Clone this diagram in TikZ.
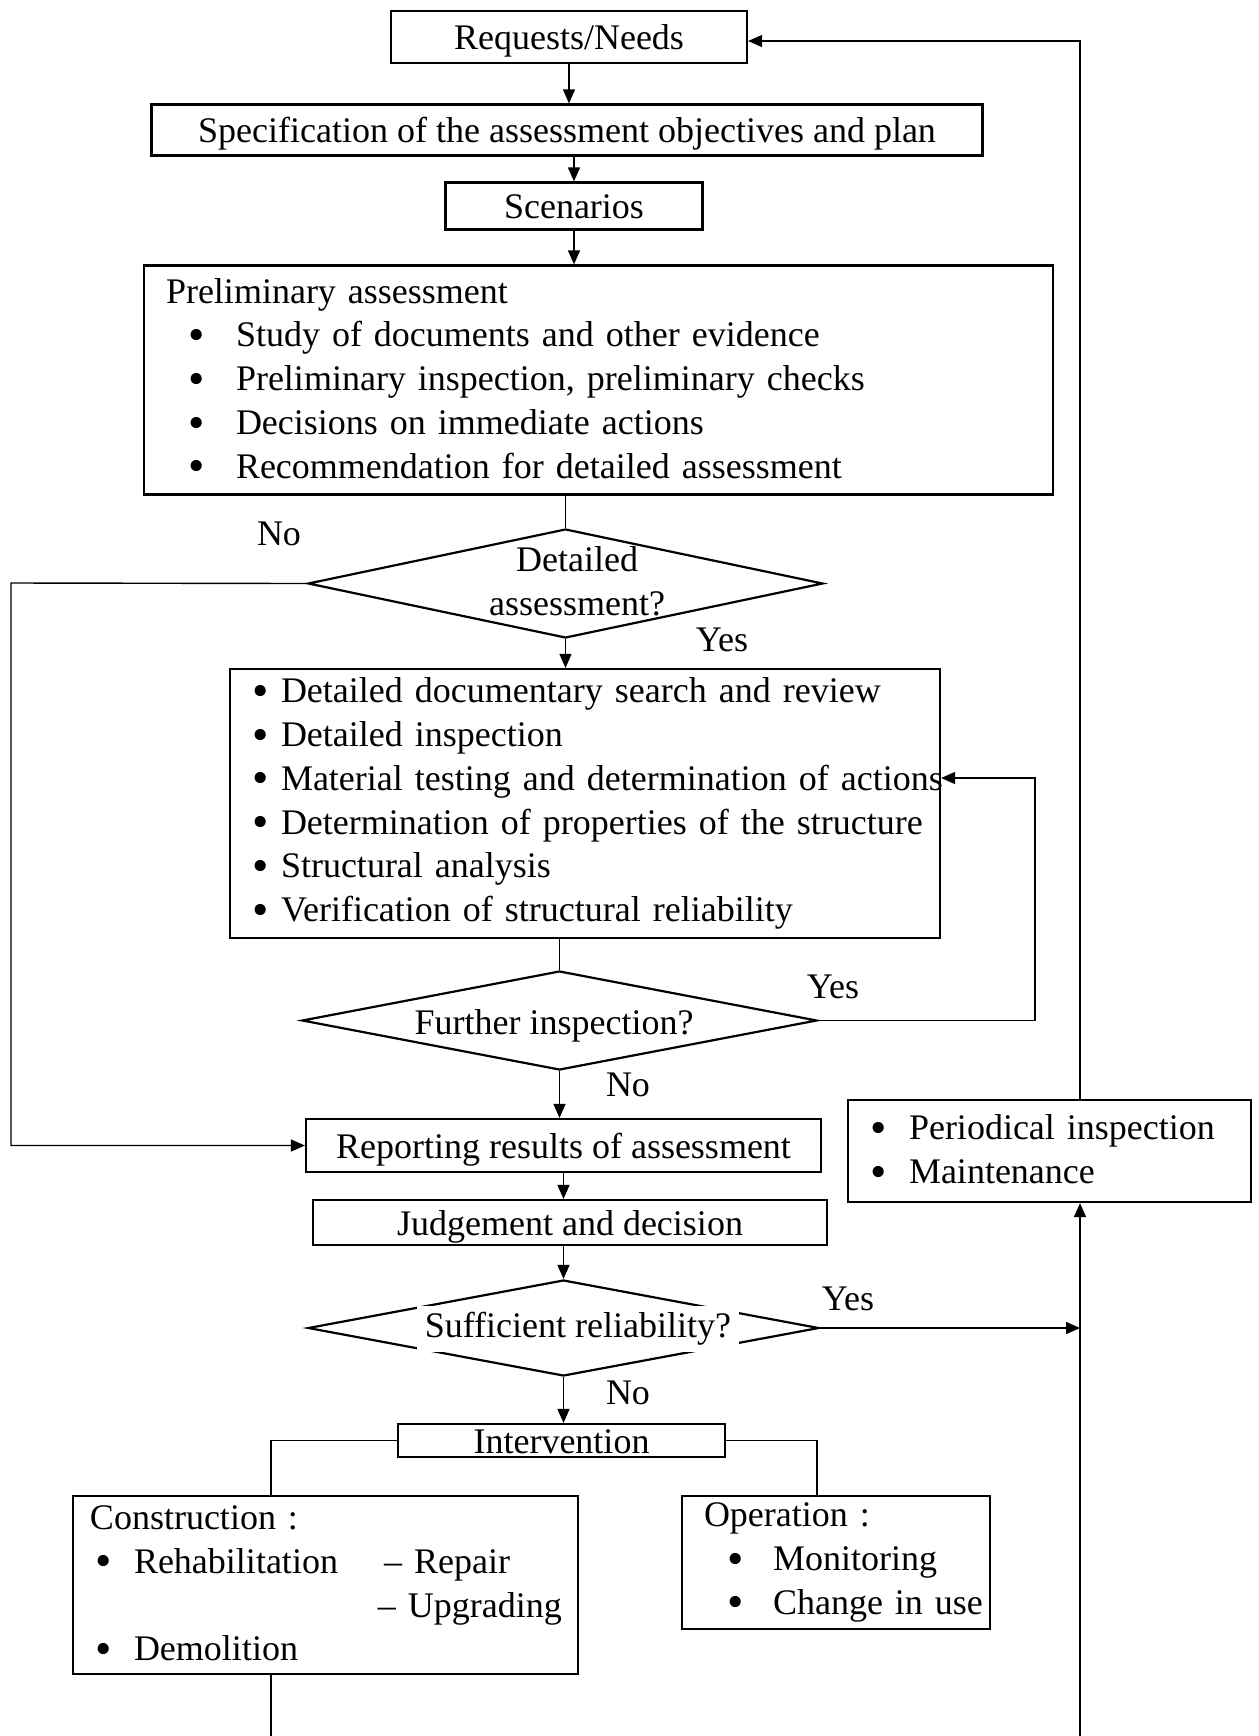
\documentclass[tikz,border=0pt]{standalone}
\usepackage{fontspec}
\setmainfont{Liberation Serif}
\usetikzlibrary{shapes.geometric,arrows.meta}
\newcommand{\bul}[3]{\mbox{\hspace*{#1}\makebox[#2][l]{\raisebox{-1.8pt}{\scalebox{1.3}{\textbullet}}}#3}}

\begin{document}
\begin{tikzpicture}[
  x=0.5pt, y=-0.5pt,
  every node/.style={font=\fontsize{18}{21.9}\selectfont},
  box/.style={draw, line width=1.1pt, inner sep=0pt, align=center, text height=14pt, text depth=1.5pt},
  listbox/.style={draw, line width=1.1pt, inner ysep=0pt, align=left},
  decision/.style={draw, diamond, line width=1.1pt, inner sep=0pt},
  conn/.style={line width=0.7pt},
  arr/.style={conn, -{Triangle[length=7pt, width=6pt]}}
]
\useasboundingbox (0,0) rectangle (1259,1736);

\node[box, minimum width=178pt, minimum height=26pt] (req) at (569,37) {Requests/Needs};
\node[box, minimum width=415.5pt, minimum height=25.5pt] (spec) at (567,130) {Specification of the assessment objectives and plan};
\node[box, minimum width=128.5pt, minimum height=23.5pt] (scen) at (574,206) {Scenarios};
\node[listbox, inner xsep=11pt, text width=432.5pt, minimum height=114.5pt] (prelim) at (598.5,380) {Preliminary assessment\\
  \bul{11pt}{24pt}{Study of documents and other evidence}\\
  \bul{11pt}{24pt}{Preliminary inspection, preliminary checks}\\
  \bul{11pt}{24pt}{Decisions on immediate actions}\\
  \bul{11pt}{24pt}{Recommendation for detailed assessment}};

\node[decision, minimum width=257.5pt, minimum height=54.5pt] (d1) at (565.5,583.5) {};
\node[align=center, inner sep=0pt] (d1txt) at (577,581) {Detailed\\assessment?};

\node[listbox, inner xsep=11pt, text width=333pt, minimum height=134.5pt] (det) at (585,803.5) {%
  \bul{0pt}{14.5pt}{Detailed documentary search and review}\\
  \bul{0pt}{14.5pt}{Detailed inspection}\\
  \bul{0pt}{14.5pt}{Material testing and determination of actions}\\
  \bul{0pt}{14.5pt}{Determination of properties of the structure}\\
  \bul{0pt}{14.5pt}{Structural analysis}\\
  \bul{0pt}{14.5pt}{Verification of structural reliability}};

\node[decision, minimum width=257.5pt, minimum height=49.5pt] (d2) at (559.5,1020.5) {};
\node[inner sep=0pt] (d2txt) at (554,1026) {Further inspection?};

\node[box, minimum width=257.5pt, minimum height=26.5pt] (rep) at (563.5,1145.5) {Reporting results of assessment};
\node[listbox, inner xsep=11pt, text width=179.5pt, minimum height=51pt] (per) at (1049.5,1151) {%
  \bul{0pt}{19.5pt}{Periodical inspection}\\
  \bul{0pt}{19.5pt}{Maintenance}};
\node[box, minimum width=257pt, minimum height=22.5pt] (judg) at (570,1222.5) {Judgement and decision};

\node[decision, minimum width=255.5pt, minimum height=48pt] (d3) at (563.5,1328) {};
\node[fill=white, inner xsep=4pt, inner ysep=3.4pt] (d3txt) at (578,1329) {Sufficient reliability?};

\node[box, minimum width=163.5pt, minimum height=16.5pt] (interv) at (561.5,1440.5) {Intervention};
\node[listbox, inner xsep=8.5pt, text width=235.5pt, minimum height=89pt] (constr) at (325.5,1585) {Construction :\\
  \bul{2.5pt}{19.5pt}{\makebox[125pt][l]{Rehabilitation}\textendash{} Repair}\\
  \mbox{\hspace*{144pt}\textendash{} Upgrading}\\
  \bul{2.5pt}{19.5pt}{Demolition}};
\node[listbox, inner xsep=11pt, text width=132pt, minimum height=66.5pt] (oper) at (836,1562.5) {Operation :\\
  \bul{11.5pt}{23pt}{Monitoring}\\
  \bul{11.5pt}{23pt}{Change in use}};

\node (noA) at (279,534) {No};
\node (yesA) at (722,640) {Yes};
\node (yesB) at (833,987) {Yes};
\node (noB) at (628,1085) {No};
\node (yesC) at (848,1299) {Yes};
\node (noC) at (628,1393) {No};

\coordinate (loopL) at (11,583);
\coordinate (loopR) at (1035,778);
\coordinate (topR) at (1080,41);
\coordinate (botR) at (1080,1736);
\coordinate (botL) at (271,1736);
\coordinate (branchR) at (817,1440);

\draw[arr] (req.south) -- (req.south |- spec.north);
\draw[arr] (scen.north |- spec.south) -- (scen.north);
\draw[arr] (scen.south) -- (scen.south |- prelim.north);
\draw[conn] (d1.north |- prelim.south) -- (d1.north);
\draw[arr] (d1.south) -- (d1.south |- det.north);
\draw[arr] (d1.west) -- (loopL) |- (rep.west);
\draw[conn] (d2.north |- det.south) -- (d2.north);
\draw[arr] (d2.east) -| (loopR) -- (loopR -| det.east);
\draw[arr] (d2.south) -- (d2.south |- rep.north);
\draw[arr] (rep.south) -- (rep.south |- judg.north);
\draw[arr] (d3.north |- judg.south) -- (d3.north);
\draw[arr] (d3.south) -- (d3.south |- interv.north);
\draw[arr] (d3.east) -- (d3.east -| botR);
\draw[arr] (topR |- per.north) -- (topR) -- (topR -| req.east);
\draw[arr] (botR) -- (botR |- per.south);
\draw[conn] (interv.west) -| (botL |- constr.north);
\draw[conn] (interv.east) -| (branchR |- oper.north);
\draw[conn] (botL |- constr.south) -- (botL);
\end{tikzpicture}
\end{document}
